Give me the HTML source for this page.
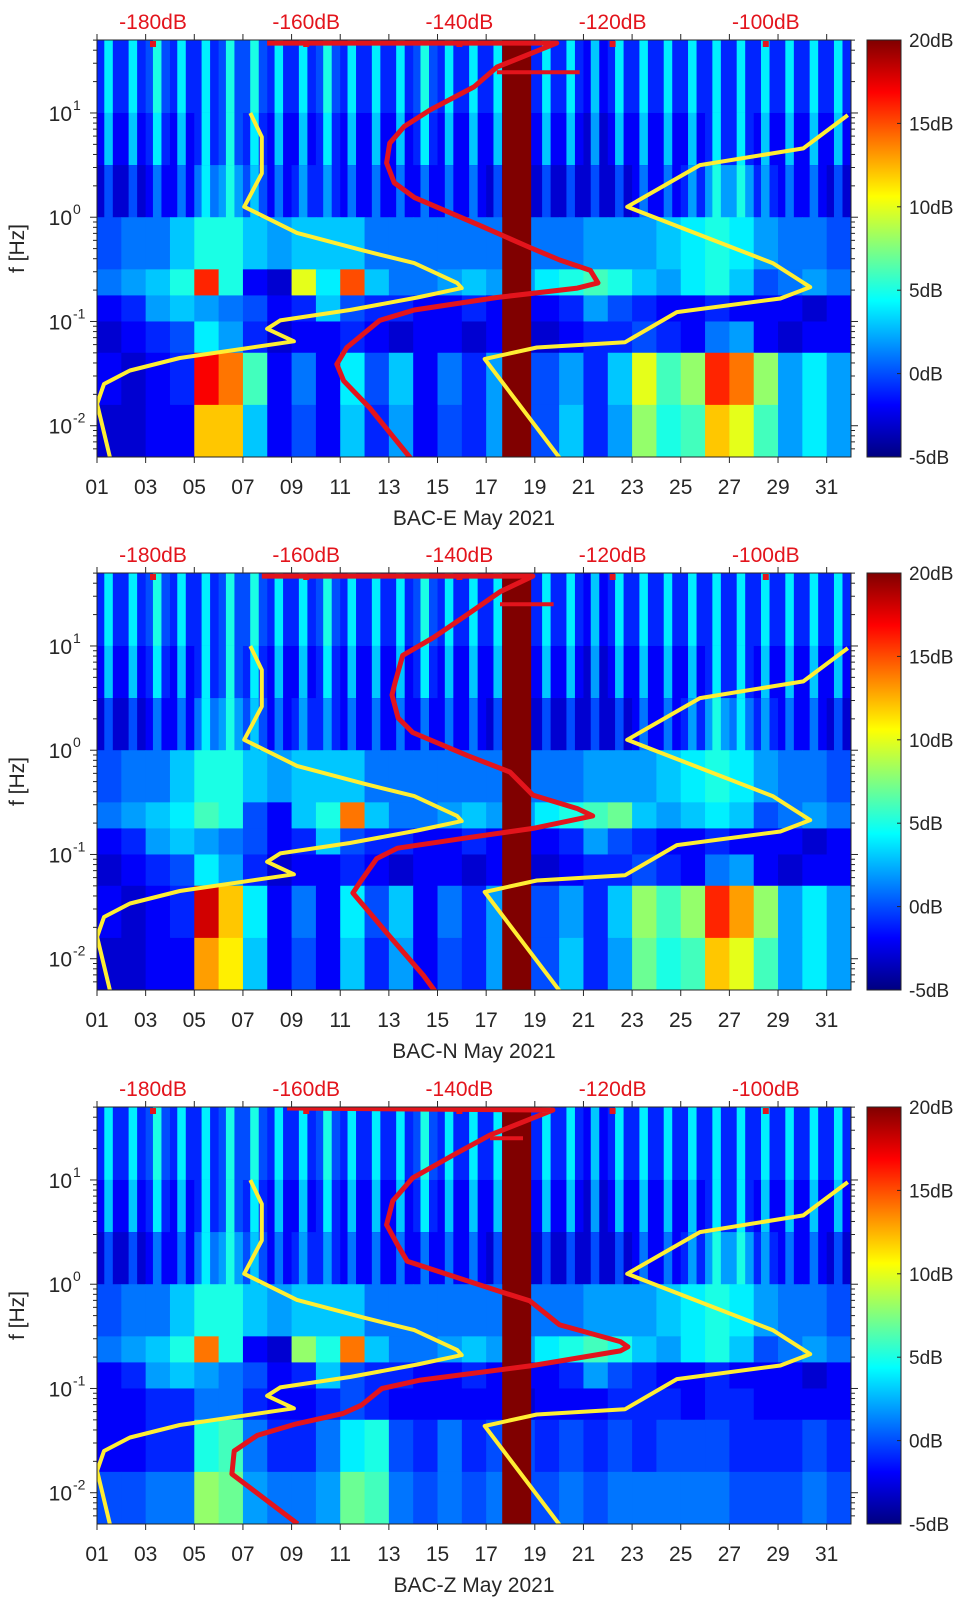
<!DOCTYPE html>
<html><head><meta charset="utf-8">
<style>
html,body{margin:0;padding:0;background:#fff;}
svg{display:block;font-family:"Liberation Sans","DejaVu Sans",sans-serif;}
</style></head>
<body>
<svg id="chart" width="962" height="1599" viewBox="0 0 962 1599" xmlns="http://www.w3.org/2000/svg"></svg>
<script>
// ---------- data ----------
const panelNames = ['BAC-E May 2021','BAC-N May 2021','BAC-Z May 2021'];
const dayTicks = ['01','03','05','07','09','11','13','15','17','19','21','23','25','27','29','31'];
const dbTicks = [-180,-160,-140,-120,-100];
const cbTicks = [20,15,10,5,0,-5];
const decadeTicks = [1,0,-1,-2];
const gapDays = [17.66, 18.85];
const bandEdges = [1.7,1.0,0.5,0.0,-0.5,-0.75,-1.0,-1.3,-1.8,-2.3];

const specE = [
 [4,4,5,4,4,5,5,4,4,5,4,4,4,5,4,4,4,4,4,4,3,4,4,4,4,4,4,4,4,4,4],
 [3,3,4,3,4,5,4,3,3,4,3,3,3,4,3,3,3,3,3,3,2,3,3,3,3,4,4,3,3,3,3],
 [0,0,1,1,4,5,3,1,2,2,1,1,1,1,1,1,0,0,0,0,0,0,1,1,2,5,5,2,1,1,0],
 [0,1,1,3,5,5,3,2,3,3,3,1,1,1,1,1,1,1,1,1,2,2,2,3,4,5,4,2,1,1,0],
 [1,2,3,5,16,5,-2,-3,10,4,15,3,1,1,2,3,2,2,4,5,6,5,3,2,4,5,3,0,1,2,1],
 [-2,-1,2,3,2,1,0,-2,-1,3,0,-1,-1,-2,-2,-1,-2,-2,-2,-1,2,0,-1,-2,-2,-1,-2,-2,-2,-3,-2],
 [-3,-2,-1,0,4,2,-1,-3,-2,-2,-1,-2,-3,-2,-2,-3,-2,-3,-3,-2,-1,-1,0,-1,-2,1,2,-2,-3,-2,-2],
 [-2,-3,-2,-1,17,14,6,-2,1,-2,4,0,3,-2,1,-1,2,0,0,2,-1,3,10,6,8,16,14,8,2,4,2],
 [-3,-3,-2,-2,12,12,3,-2,0,-2,3,-1,2,-2,0,-1,2,0,0,3,-1,2,8,5,6,12,10,6,2,4,2]
];
const specN = [
 [4,4,5,4,4,5,5,4,4,5,4,4,4,5,4,4,4,4,4,4,3,4,4,4,4,4,4,4,4,4,4],
 [3,3,4,3,4,5,4,3,3,4,3,3,3,4,3,3,3,3,3,3,2,3,3,3,3,4,4,3,3,3,3],
 [0,0,1,1,4,5,3,1,2,2,1,1,1,1,1,1,0,0,0,0,0,0,1,1,2,5,4,2,1,1,0],
 [0,1,1,3,5,5,3,2,3,3,3,1,1,1,1,1,1,1,1,1,2,2,2,3,4,5,4,2,1,1,0],
 [1,2,3,4,6,5,0,-2,3,5,14,3,1,1,2,3,2,2,4,5,6,7,3,2,3,4,3,0,1,2,1],
 [-2,-1,2,3,2,1,0,-2,-1,3,0,-1,-1,-2,-2,-1,-2,-2,-2,-1,2,0,-1,-2,-2,-1,-2,-2,-2,-3,-2],
 [-3,-2,-1,0,4,2,-1,-3,-2,-2,-1,-2,-3,-2,-2,-3,-2,-3,-3,-2,-1,-1,0,-1,-2,1,2,-2,-3,-2,-2],
 [-2,-3,-2,-1,18,12,4,-2,1,-2,4,0,3,-2,1,-1,2,0,0,2,-1,3,8,6,8,16,13,8,2,4,2],
 [-3,-3,-2,-2,13,11,3,-2,0,-2,3,-1,2,-2,0,-1,2,0,0,3,-1,2,7,5,6,12,10,6,2,4,2]
];
const specZ = [
 [4,4,5,4,4,5,5,4,4,5,4,4,4,5,4,4,4,4,4,4,3,4,4,4,4,4,4,4,4,4,4],
 [3,3,4,3,4,5,4,3,3,4,3,3,3,4,3,3,3,3,3,3,2,3,3,3,3,4,4,3,3,3,3],
 [0,0,1,1,4,5,3,1,2,2,1,1,1,1,1,1,0,0,0,0,0,0,1,1,2,5,5,2,1,1,0],
 [0,1,1,3,5,5,3,2,3,3,3,1,1,1,1,1,1,1,1,1,2,2,2,3,4,5,4,2,1,1,0],
 [1,2,3,5,14,5,-2,-3,8,5,14,3,1,1,2,3,2,2,4,5,6,5,3,2,4,5,3,0,1,2,1],
 [-2,-1,2,3,2,1,0,-2,-1,3,0,-1,-1,-2,-2,-1,-2,-2,-2,-1,2,0,-1,-2,-2,-1,-2,-2,-2,-3,-2],
 [-2,-2,-1,-1,1,1,-1,-2,-2,-1,0,-1,-2,-2,-2,-2,-2,-3,-2,-2,-2,-1,-1,-1,-2,-1,-1,-2,-2,-2,-2],
 [-2,-2,-1,-1,5,6,1,-1,-1,1,4,5,0,-1,1,-1,0,0,-1,0,-1,0,-1,0,0,0,-1,-1,-1,0,-1],
 [0,0,1,1,8,7,2,1,1,2,7,6,1,0,1,0,1,0,0,1,0,1,1,1,1,1,0,0,0,1,0]
];
const specs = [specE, specN, specZ];

const yellowLowDb = [-185.6,-187.3,-186.4,-183.0,-176.5,-161.6,-165.1,-163.4,-154.3,-145.5,-139.7,-140.3,-145.9,-152.5,-161.2,-168.1,-165.8,-165.8,-167.3];
const yellowLowLogf = [-2.31,-1.79,-1.60,-1.47,-1.35,-1.19,-1.07,-0.99,-0.89,-0.77,-0.68,-0.63,-0.44,-0.32,-0.15,0.10,0.42,0.77,1.00];
const yellowHighDb = [-126.9,-136.7,-129.9,-118.4,-111.6,-98.1,-94.2,-99.1,-118.1,-108.6,-95.1,-89.3];
const yellowHighLogf = [-2.31,-1.36,-1.25,-1.20,-0.91,-0.78,-0.67,-0.44,0.10,0.50,0.66,0.98];

const redEDb = [-146.4,-151.7,-155.1,-156.0,-154.7,-150.4,-145.9,-135.1,-124.6,-121.9,-122.9,-126.9,-130.8,-137.3,-145.9,-148.5,-149.5,-149.1,-147.2,-143.8,-138.1,-135.1,-127.3,-165.1];
const redELogf = [-2.31,-1.83,-1.57,-1.41,-1.25,-0.99,-0.89,-0.77,-0.68,-0.63,-0.51,-0.41,-0.29,-0.08,0.19,0.33,0.52,0.71,0.87,1.03,1.25,1.44,1.67,1.67];
const redNDb = [-143.2,-144.7,-149.5,-153.9,-153.0,-150.8,-148.1,-139.0,-130.4,-122.6,-124.6,-130.4,-133.4,-139.0,-146.1,-148.0,-148.8,-148.4,-147.4,-143.4,-139.0,-134.7,-130.4,-165.8];
const redNLogf = [-2.31,-2.16,-1.75,-1.37,-1.27,-1.04,-0.94,-0.84,-0.75,-0.63,-0.56,-0.43,-0.21,-0.05,0.17,0.31,0.53,0.65,0.91,1.08,1.30,1.52,1.67,1.67];
const redZDb = [-161.1,-169.7,-169.4,-166.4,-161.3,-155.2,-152.8,-150.1,-145.1,-130.4,-119.0,-118.0,-119.0,-126.9,-130.8,-134.7,-146.8,-148.1,-149.5,-148.7,-146.1,-140.8,-136.0,-127.8,-162.5];
const redZLogf = [-2.30,-1.82,-1.60,-1.45,-1.34,-1.24,-1.16,-1.00,-0.92,-0.78,-0.64,-0.60,-0.55,-0.39,-0.16,-0.07,0.22,0.38,0.57,0.80,1.02,1.24,1.43,1.67,1.69];
const redDbs = [redEDb, redNDb, redZDb];
const redLogfs = [redELogf, redNLogf, redZLogf];
const redSpurDb = [[-135.1,-124.3],[-134.7,-127.7],[-136.0,-131.7]];
const redSpurLogf = [1.39,1.40,1.40];

// ---------- layout ----------
const tops = [40,573,1107];
const PH = 417, X0 = 97, X1 = 851, CBX = 867, CBW = 34;
const svg = document.getElementById('chart');
const NS = 'http://www.w3.org/2000/svg';
function mk(tag, attrs, parent){const e=document.createElementNS(NS,tag);for(const k in attrs)e.setAttribute(k,attrs[k]);(parent||svg).appendChild(e);return e;}
function xDay(d){return X0 + (d-1)*(X1-X0)/31;}
function xDb(db){return 153 + (db+180)*7.66;}
function yF(top,l){return top + (1.7-l)*PH/4.0;}
function jet(v){let t=(v+5)/25;t=Math.max(0,Math.min(1,t));const c=x=>Math.round(255*Math.max(0,Math.min(1,1.5-Math.abs(4*t-x))));return `rgb(${c(3)},${c(2)},${c(1)})`;}

mk('defs',{}).innerHTML = '<linearGradient id="cbgrad" x1="0" y1="1" x2="0" y2="0">'+
  [0,0.125,0.25,0.375,0.5,0.625,0.75,0.875,1].map(t=>`<stop offset="${t}" stop-color="${jet(-5+25*t)}"/>`).join('')+'</linearGradient>';

tops.forEach((top,p)=>{
  const g = mk('g',{});
  
  
  const clipId='clip'+p;
  const cp = mk('clipPath',{id:clipId},g); mk('rect',{x:X0,y:top,width:X1-X0,height:PH},cp);
  const hm = mk('g',{'clip-path':`url(#${clipId})`},g);
  
  
  const spec = specs[p];
  spec.forEach((row,b)=>{
    const y0=yF(top,bandEdges[b]), y1=yF(top,bandEdges[b+1]);
    row.forEach((v,i)=>{
      const d=i+1;
      if(b<=2){
        const off = b==2?3:5;
        const r0=mk('rect',{x:xDay(d),y:y0,width:xDay(d+1)-xDay(d)+0.5,height:y1-y0+0.5,fill:jet(v-off)},hm);
        
        const r1=mk('rect',{x:xDay(d+0.3),y:y0,width:xDay(d+0.65)-xDay(d+0.3),height:y1-y0+0.5,fill:jet(v)},hm);
        
      } else {
        const r=mk('rect',{x:xDay(d),y:y0,width:xDay(d+1)-xDay(d)+0.5,height:y1-y0+0.5,fill:jet(v)},hm);
        
      }
    });
  });
  const gap=mk('rect',{x:xDay(gapDays[0]),y:top,width:xDay(gapDays[1])-xDay(gapDays[0]),height:PH,fill:'#800000'},hm);
  
  
  const line=(dbs,lfs,col,w,name)=>{
    const pl=mk('polyline',{points:dbs.map((d,i)=>xDb(d).toFixed(1)+','+yF(top,lfs[i]).toFixed(1)).join(' '),fill:'none',stroke:col,'stroke-width':w,'stroke-linejoin':'round'},hm);
    
    
  };
  line(yellowLowDb,yellowLowLogf,'#ffee33',4,'low-noise-model-curve');
  line(yellowHighDb,yellowHighLogf,'#ffee33',4,'high-noise-model-curve');
  line(redDbs[p],redLogfs[p],'#e3141c',5,'median-psd-curve');
  line(redSpurDb[p],[redSpurLogf[p],redSpurLogf[p]],'#e3141c',4,'psd-spur');
  dbTicks.forEach(db=>{const r=mk('rect',{x:xDb(db)-3,y:top+1,width:6,height:6,fill:'#e3141c'},hm);});
  const fr=mk('rect',{x:X0,y:top,width:X1-X0,height:PH,fill:'none',stroke:'#262626','stroke-width':1},g);
  
  dayTicks.forEach(t=>{
    const x=xDay(+t);
    mk('line',{x1:x,x2:x,y1:top+PH,y2:top+PH+6,stroke:'#262626'},g);
    mk('line',{x1:x,x2:x,y1:top,y2:top-6,stroke:'#262626'},g);
    const tx=mk('text',{x:x,y:top+PH+37,'font-size':21,'text-anchor':'middle',fill:'#262626'},g);
    tx.textContent=t;
    
  });
  const xt=mk('text',{x:474,y:top+PH+68,'font-size':21,'text-anchor':'middle',fill:'#262626'},g);
  xt.textContent=panelNames[p];
  
  dbTicks.forEach(db=>{
    const tx=mk('text',{x:xDb(db),y:top-11,'font-size':21,'text-anchor':'middle',fill:'#e3141c'},g);
    tx.textContent=db+'dB';
    
  });
  for(let k=-3;k<=1;k++){for(let m=1;m<=9;m++){const l=k+Math.log10(m);if(l<-2.3||l>1.7)continue;const y=yF(top,l);const len=m==1?7:4;
    mk('line',{x1:X0-len,x2:X0,y1:y,y2:y,stroke:'#262626'},g);mk('line',{x1:X1,x2:X1+len,y1:y,y2:y,stroke:'#262626'},g);}}
  decadeTicks.forEach(k=>{
    const y=yF(top,k);
    const tx=mk('text',{x:72,y:y+8,'font-size':21,'text-anchor':'end',fill:'#262626'},g);
    
    tx.textContent='10';
    const sp=mk('text',{x:73,y:y-3,'font-size':14,'text-anchor':'start',fill:'#262626'},g);
    sp.textContent=String(k);
    
  });
  const yl=mk('text',{x:0,y:0,'font-size':21,'text-anchor':'middle',fill:'#262626',transform:`translate(24,${top+PH/2}) rotate(-90)`},g);
  yl.textContent='f [Hz]';
  
  const cb=mk('rect',{x:CBX,y:top,width:CBW,height:PH,fill:'url(#cbgrad)',stroke:'#262626','stroke-width':1},g);
  
  
  cbTicks.forEach(v=>{
    const y=top+(20-v)/25*PH;
    mk('line',{x1:CBX+CBW-4,x2:CBX+CBW,y1:y,y2:y,stroke:'#262626'},g);
    const tx=mk('text',{x:CBX+CBW+8,y:y+7,'font-size':19,fill:'#262626'},g);
    tx.textContent=v+'dB';
    
  });
});
</script>
</body></html>
